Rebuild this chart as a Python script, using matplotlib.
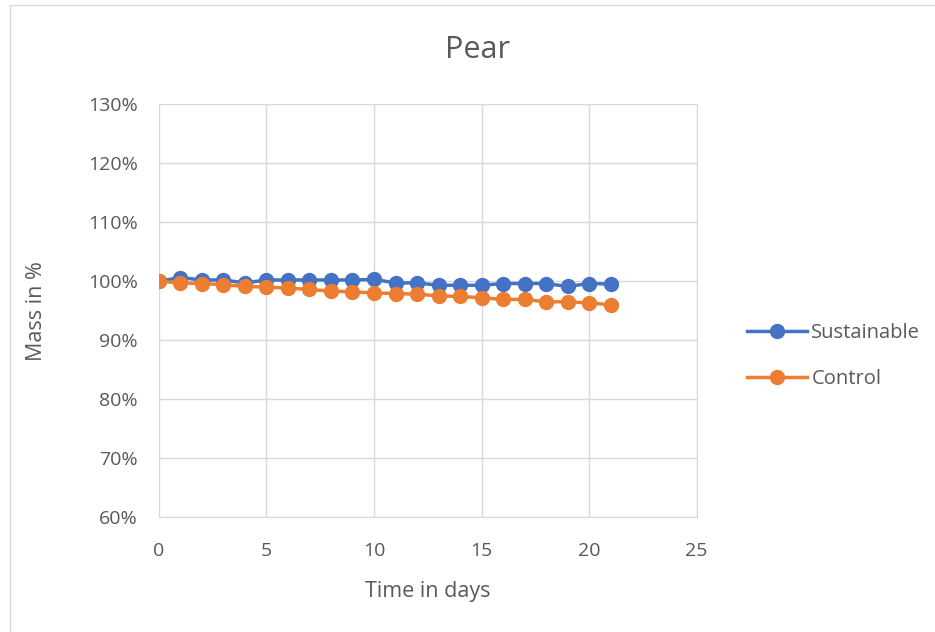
import matplotlib.pyplot as plt
from matplotlib.ticker import PercentFormatter
import matplotlib.patches as patches

days = list(range(22))
sustainable = [100.0, 100.6, 100.2, 100.2, 99.7, 100.2, 100.2, 100.2, 100.2, 100.2, 100.3,
               99.7, 99.7, 99.3, 99.3, 99.3, 99.6, 99.6, 99.6, 99.1, 99.6, 99.5]
control = [100.0, 99.7, 99.6, 99.4, 99.1, 99.0, 98.8, 98.6, 98.3, 98.2, 98.0,
           97.9, 97.8, 97.5, 97.4, 97.2, 96.9, 96.9, 96.5, 96.5, 96.3, 96.0]

blue = '#4472C4'
orange = '#ED7D31'
text_col = '#595959'

plt.rcParams['font.family'] = ['Open Sans', 'DejaVu Sans']

fig = plt.figure(figsize=(9.35, 6.32), dpi=100)
fig.patches.append(patches.Rectangle((0.011, -0.01), 0.99, 1.002, transform=fig.transFigure,
                                     fill=False, edgecolor='#D9D9D9', linewidth=1))
ax = fig.add_axes([0.170, 0.182, 0.575, 0.653])

ax.plot(days, sustainable, color=blue, linewidth=2.5, marker='o', markersize=10, label='Sustainable')
ax.plot(days, control, color=orange, linewidth=2.5, marker='o', markersize=10, label='Control')

ax.set_xlim(0, 25)
ax.set_ylim(60, 130)
ax.set_xticks(range(0, 26, 5))
ax.set_yticks(range(60, 131, 10))
ax.yaxis.set_major_formatter(PercentFormatter(decimals=0))
ax.grid(True, color='#D9D9D9', linewidth=1)
ax.set_axisbelow(True)
for s in ['top', 'left']:
    ax.spines[s].set_visible(False)
ax.spines['right'].set_color('#D9D9D9')
ax.spines['bottom'].set_color('#D9D9D9')
ax.tick_params(length=0, labelsize=14, colors=text_col)
ax.tick_params(axis='x', pad=18)
ax.tick_params(axis='y', pad=15)

fig.text(0.511, 0.921, 'Pear', fontsize=22, color=text_col, ha='center', va='center')
ax.set_xlabel('Time in days', fontsize=15.5, color=text_col, labelpad=15)
ax.set_ylabel('Mass in %', fontsize=15.5, color=text_col, labelpad=30)

ax.legend(loc='center left', bbox_to_anchor=(1.06, 0.39), frameon=False, fontsize=14.5,
          labelcolor=text_col, handlelength=3, handletextpad=0.2, labelspacing=1.3)

fig.savefig('out.png', dpi=100)
